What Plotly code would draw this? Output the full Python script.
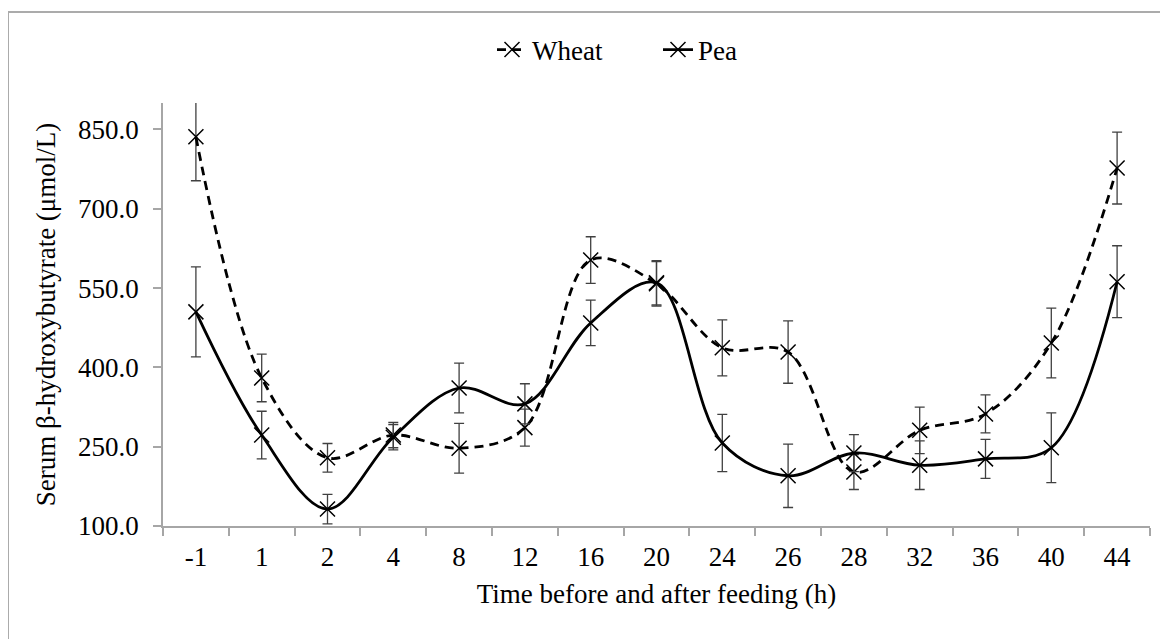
import plotly.graph_objects as go

time_labels = ["-1", "1", "2", "4", "8", "12", "16", "20", "24", "26", "28", "32", "36", "40", "44"]
wheat = [836, 380, 229, 272, 247, 286, 603, 558, 437, 429, 202, 281, 312, 446, 777]
wheat_se = [83, 45, 27, 24, 47, 35, 44, 42, 53, 59, 33, 44, 36, 66, 68]
pea = [505, 272, 132, 268, 361, 331, 484, 560, 257, 195, 238, 215, 227, 248, 562]
pea_se = [85, 45, 28, 24, 47, 38, 43, 42, 54, 60, 35, 46, 37, 66, 68]

FONT = "Liberation Serif, Times New Roman, serif"
AXIS_GRAY = "#a6a6a6"
FS = 27

fig = go.Figure()

def add_series(name, vals, se, dash):
    fig.add_trace(go.Scatter(
        x=time_labels, y=vals, name=name, mode="lines+markers",
        line=dict(color="black", width=2.8, dash=dash, shape="spline", smoothing=1),
        marker=dict(symbol="x-thin-open", size=15, color="black",
                    line=dict(color="black", width=1.5)),
        error_y=dict(type="data", array=se, visible=True, color="#404040",
                     thickness=1.3, width=5),
    ))

add_series("Wheat", wheat, wheat_se, "9px,6px")
add_series("Pea", pea, pea_se, "solid")

# page body has an 8px margin; compensate so that screen positions match
O = 8
W, H = 1168, 639
L = 163 - O
T = 103 - O
R = W + O - 1150
B = H + O - 526
pw = W - L - R
ph = H - T - B

def px_x(px):
    return (px - O - L) / pw

def px_y(py):
    return (H - B - (py - O)) / ph

fig.add_shape(type="rect", xref="paper", yref="paper",
              x0=px_x(8), x1=px_x(1200), y0=px_y(12), y1=px_y(700),
              line=dict(color="#ababab", width=2), fillcolor="rgba(0,0,0,0)",
              layer="below")

fig.update_layout(
    width=W, height=H,
    margin=dict(l=L, r=R, t=T, b=B, autoexpand=False),
    paper_bgcolor="white", plot_bgcolor="white",
    font=dict(family=FONT, size=FS, color="black"),
    showlegend=True,
    legend=dict(orientation="h", x=px_x(492), xanchor="left",
                y=px_y(50), yanchor="middle", font=dict(size=FS),
                entrywidth=121, entrywidthmode="pixels",
                bgcolor="rgba(0,0,0,0)"),
    xaxis=dict(type="category", showline=True, linecolor=AXIS_GRAY, linewidth=1.5,
               ticks="outside", ticklen=8, tickcolor=AXIS_GRAY, tickwidth=1.5,
               tickson="boundaries", showgrid=False, zeroline=False,
               range=[-0.5, 14.5], automargin=False, ticklabelstandoff=6,
               title=dict(text="Time before and after feeding (h)", standoff=13,
                          font=dict(size=FS)),
               tickfont=dict(size=FS)),
    yaxis=dict(range=[100, 900], tickvals=[100, 250, 400, 550, 700, 850],
               tickformat=".1f", showline=True, linecolor=AXIS_GRAY, linewidth=1.5,
               ticks="outside", ticklen=8, tickcolor=AXIS_GRAY, tickwidth=1.5,
               showgrid=False, zeroline=False, automargin=False, ticklabelstandoff=9,
               title=dict(text="Serum β-hydroxybutyrate (μmol/L)", standoff=15,
                          font=dict(size=FS)),
               tickfont=dict(size=FS)),
)

fig.write_html("out.html")
